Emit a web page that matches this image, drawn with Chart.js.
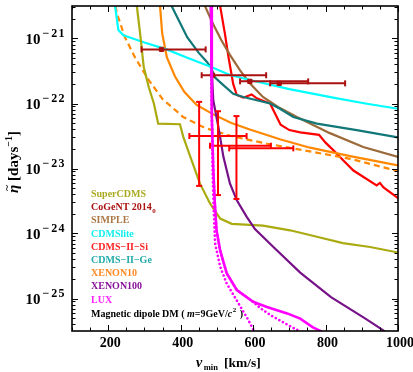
<!DOCTYPE html>
<html>
<head>
<meta charset="utf-8">
<script src="https://cdn.jsdelivr.net/npm/chart.js@4.4.1/dist/chart.umd.min.js"></script>
<style>
  html,body{margin:0;padding:0;background:#fff;}
  canvas{display:block;}
</style>
</head>
<body>
<canvas id="eta" width="413" height="372"></canvas>
<script>
// v_min [km/s] and eta~ [days^-1]
const cdmsliteX = [219,228,242,300,361,420,481,536,600,700,821,910,1000];
const cdmsliteY = [3.16e-21,1.35e-21,1.12e-21,8.7e-22,6.8e-22,5.0e-22,3.7e-22,2.75e-22,2.24e-22,1.66e-22,1.23e-22,1.0e-22,8.3e-23];

const superX = [279,288,298,312,326,338,398,407,430,453,481,509,541,627,702,776,848,923,1000];
const superY = [3.16e-21,1.2e-21,3.63e-22,1.78e-22,1.0e-22,4.9e-23,4.8e-23,3.1e-23,1.35e-23,5.9e-24,2.9e-24,1.7e-24,1.41e-24,1.32e-24,1.12e-24,8.9e-25,7.1e-25,6.2e-25,5.1e-25];

const xe10X = [343,349,362,384,410,444,490,540,591,674,757,868,1000];
const xe10Y = [3.16e-21,1.2e-21,5.1e-22,2.63e-22,1.51e-22,9.5e-23,6.8e-23,5.0e-23,3.98e-23,2.82e-23,2.09e-23,1.55e-23,1.12e-23];

const xe10dX = [220,224,246,274,312,350,407,467,545,640,730,868,1000];
const xe10dY = [3.16e-21,2.45e-21,1.05e-21,5.1e-22,2.29e-22,1.17e-22,6.2e-23,4.2e-23,3.1e-23,2.4e-23,1.95e-23,1.41e-23,9.1e-24];

const geX = [375,395,418,450,472,484,495,514,545,573,647,674,711,776,886,1000];
const geY = [3.16e-21,1.9e-21,1.05e-21,6.0e-22,4.4e-22,3.55e-22,2.5e-22,2.0e-22,1.41e-22,1.26e-22,1.0e-22,8.3e-23,6.2e-23,4.9e-23,3.9e-23,3.0e-23];

const simpleX = [467,490,512,536,564,591,627,674,721,812,904,1000];
const simpleY = [3.16e-21,1.66e-21,9.5e-22,5.6e-22,3.24e-22,2.04e-22,1.26e-22,8.5e-23,6.2e-23,3.5e-23,2.14e-23,1.51e-23];

const siX = [509,522,532,545,555,573,596,610,647,656,676,700,730,782,800,822,850,877,941,950,960,1000];
const siY = [3.16e-21,1.2e-21,5.2e-22,2.0e-22,1.35e-22,1.23e-22,1.38e-22,1.2e-22,1.0e-22,7.9e-23,4.7e-23,3.9e-23,3.6e-23,3.3e-23,2.5e-23,1.9e-23,1.32e-23,9.3e-24,5.5e-24,6.0e-24,5.1e-24,3.5e-24];

const xe100X = [483,486,490,504,518,536,555,582,605,656,730,815,910,950,975];
const xe100Y = [3.16e-21,3.16e-22,1.12e-22,4.4e-23,1.51e-23,5.9e-24,3.24e-24,1.82e-24,1.17e-24,6.2e-25,2.5e-25,1.05e-25,4.9e-26,3.5e-26,2.8e-26];

const luxX = [484,486,490,494,499,509,527,555,600,638,694,730,765,790];
const luxY = [3.16e-21,6.3e-23,1.0e-23,3.16e-24,1.12e-24,5.5e-25,2.45e-25,1.35e-25,8.9e-26,7.4e-26,5.9e-26,4.9e-26,3.6e-26,3.1e-26];

const luxDot1X = [484,486,488,491,495,509,527,555,582,605];
const luxDot1Y = [3.16e-21,6.3e-23,1.0e-23,2.5e-24,7.1e-25,3.1e-25,1.7e-25,9.3e-26,5.2e-26,3.0e-26];

const luxDot2X = [484,486,490,494,499,509,527,555,600,620,647,693,730];
const luxDot2Y = [3.16e-21,6.3e-23,1.0e-23,3.16e-24,1.12e-24,5.5e-25,2.45e-25,1.35e-25,8.9e-26,7.1e-26,5.6e-26,4.0e-26,3.1e-26];

// CoGeNT 2014 bins (horizontal bars only)
const cogentX   = [347,488,591,672];
const cogentXlo = [292,458,564,647];
const cogentXhi = [469,636,752,854];
const cogentY   = [6.8e-22,2.72e-22,2.19e-22,2.04e-22];

// CDMS-II-Si points
const siPtX   = [451,503,554];
const siPtXlo = [424,481,534];
const siPtXhi = [582,649,711];
const siPtY   = [3.16e-23,2.24e-23,2.04e-23];
const siPtYlo = [5.4e-24,3.9e-24,3.4e-24];
const siPtYhi = [1.06e-22,7.6e-23,6.4e-23];

const xTicks = [200,400,600,800,1000];
const yExps = [-21,-22,-23,-24,-25];

const legendItems = [
  ['SuperCDMS','#aaaa22'],
  ['CoGeNT 2014','#aa1111'],
  ['SIMPLE','#aa7744'],
  ['CDMSlite','#11eeee'],
  ['CDMS\u2212II\u2212Si','#ff2222'],
  ['CDMS\u2212II\u2212Ge','#22aaaa'],
  ['XENON10','#ff8822'],
  ['XENON100','#881199'],
  ['LUX','#ff22ff']
];

const SERIF = '"Liberation Serif","DejaVu Serif",serif';

function pts(xs, ys){ return xs.map((x,i)=>({x:x, y:ys[i]})); }

function curve(xs, ys, color, extra){
  return Object.assign({
    data: pts(xs, ys), borderColor: color, borderWidth: 2.2,
    pointRadius: 0, fill: false, tension: 0, order: 5
  }, extra || {});
}

const datasets = [
  curve(luxX, luxY, '#ff00ff', {borderWidth:2.6, order:0}),
  curve(luxDot1X, luxDot1Y, '#ff00ff', {borderWidth:2.6, borderDash:[0.1,4], borderCapStyle:'round', order:0}),
  curve(luxDot2X, luxDot2Y, '#ff00ff', {borderWidth:2.6, borderDash:[0.1,4], borderCapStyle:'round', order:0}),
  curve(xe100X, xe100Y, '#771188', {order:3}),
  curve(superX, superY, '#aaaa11'),
  curve(cdmsliteX, cdmsliteY, '#00ffff'),
  curve(xe10X, xe10Y, '#ff8800'),
  curve(xe10dX, xe10dY, '#ff8800', {borderDash:[6,4]}),
  curve(geX, geY, '#117777'),
  curve(simpleX, simpleY, '#9c6a3a'),
  curve(siX, siY, '#ff0000')
];

// error bars as two-point line datasets with cap markers
cogentX.forEach((c,i)=>{
  datasets.push({
    data:[{x:cogentXlo[i],y:cogentY[i]},{x:cogentXhi[i],y:cogentY[i]}],
    borderColor:'#aa1111', borderWidth:2, fill:false, order:1,
    pointStyle:'line', rotation:90, pointRadius:3, pointBorderWidth:2, pointBorderColor:'#aa1111'
  });
});
datasets.push({
  data: pts(cogentX, cogentY), showLine:false, order:1,
  pointStyle:'rect', pointRadius:3, pointBackgroundColor:'#aa1111', pointBorderColor:'#aa1111', borderColor:'#aa1111'
});
siPtX.forEach((c,i)=>{
  datasets.push({
    data:[{x:siPtXlo[i],y:siPtY[i]},{x:siPtXhi[i],y:siPtY[i]}],
    borderColor:'#ff0000', borderWidth:2, fill:false, order:1,
    pointStyle:'line', rotation:90, pointRadius:3, pointBorderWidth:2, pointBorderColor:'#ff0000'
  });
  datasets.push({
    data:[{x:c,y:siPtYlo[i]},{x:c,y:siPtYhi[i]}],
    borderColor:'#ff0000', borderWidth:2, fill:false, order:1,
    pointStyle:'line', rotation:0, pointRadius:3, pointBorderWidth:2, pointBorderColor:'#ff0000'
  });
});

const decor = {
  id:'decor',
  beforeDatasetsDraw(chart){
    const ctx = chart.ctx;
    ctx.save();
    ctx.textBaseline = 'middle';
    ctx.textAlign = 'left';
    let y0 = 194.5;
    legendItems.forEach(([t,c],i)=>{
      ctx.fillStyle = c;
      ctx.font = 'bold 10px ' + SERIF;
      ctx.fillText(t, 91, y0 + i*13.2);
      if(i===1){
        const w = ctx.measureText(t).width;
        ctx.font = 'bold 7px ' + SERIF;
        ctx.fillText('0', 91 + w + 0.5, y0 + i*13.2 + 3);
      }
    });
    // model label
    let x = 91, yl = 314;
    ctx.fillStyle = '#000';
    const parts = [['Magnetic dipole DM ( ','bold 10px'],['m','italic bold 10px'],['=9GeV/','bold 10px'],['c','italic bold 10px']];
    parts.forEach(([t,f])=>{ ctx.font = f + ' ' + SERIF; ctx.fillText(t, x, yl); x += ctx.measureText(t).width; });
    ctx.font = 'bold 7px ' + SERIF; ctx.fillText('2', x + 0.5, yl - 4); x += ctx.measureText('2').width + 1.5;
    ctx.font = 'bold 10px ' + SERIF; ctx.fillText(' )', x, yl);
    ctx.restore();
  },
  afterDraw(chart){
    const {ctx, chartArea:a, scales:{x:xs, y:ys}} = chart;
    ctx.save();
    ctx.strokeStyle = '#000';
    ctx.lineWidth = 1;
    const seg = (x1,y1,x2,y2)=>{ ctx.beginPath(); ctx.moveTo(x1,y1); ctx.lineTo(x2,y2); ctx.stroke(); };
    for(let v=100; v<=1000; v+=50){
      const px = Math.round(xs.getPixelForValue(v)) + 0.5;
      const L = v%200===0 ? 6 : 3.5;
      seg(px, a.bottom, px, a.bottom - L);
      seg(px, a.top, px, a.top + L);
    }
    for(let e=-26; e<=-20; e++){
      for(let m=1; m<10; m++){
        const v = m * Math.pow(10, e);
        if(v < ys.min || v > ys.max) continue;
        const py = Math.round(ys.getPixelForValue(v)) + 0.5;
        const L = m===1 ? 6 : 3.5;
        seg(a.left, py, a.left + L, py);
        seg(a.right, py, a.right - L, py);
      }
    }
    ctx.lineWidth = 1.6;
    ctx.strokeRect(a.left, a.top, a.right - a.left, a.bottom - a.top);

    // tick labels
    ctx.fillStyle = '#000';
    ctx.textBaseline = 'alphabetic';
    ctx.font = 'bold 14px ' + SERIF;
    ctx.textAlign = 'center';
    xTicks.forEach(v=>{ ctx.fillText(String(v), xs.getPixelForValue(v) + 2, 347); });
    yExps.forEach(e=>{
      const py = ys.getPixelForValue(Math.pow(10, e));
      ctx.textAlign = 'right';
      ctx.font = 'bold 15px ' + SERIF;
      ctx.fillText('10', 40.5, py + 5);
      ctx.textAlign = 'left';
      ctx.font = 'bold 12px ' + SERIF;
      ctx.fillText('\u2212', 42.5, py - 2);
      const mw = ctx.measureText('\u2212').width;
      const ds = String(-e);
      let dx = 42.5 + mw + 2;
      for(const ch of ds){ ctx.fillText(ch, dx, py - 2); dx += ctx.measureText(ch).width + 1.2; }
    });

    // x title
    let tx = 196;
    ctx.textAlign = 'left';
    ctx.font = 'italic bold 14px ' + SERIF; ctx.fillText('v', tx, 367); tx += ctx.measureText('v').width + 1.5;
    ctx.font = 'bold 8.5px ' + SERIF; ctx.fillText('min', tx, 370);
    ctx.font = 'bold 13.5px ' + SERIF; ctx.fillText('[km/s]', 224, 367);

    // y title
    ctx.translate(18, 162);
    ctx.rotate(-Math.PI/2);
    ctx.textAlign = 'left';
    const segs = [['\u03b7','italic bold 15px',0],[' [days','bold 15px',0],['\u22121','bold 10px',-6],[']','bold 15px',0]];
    let total = 0;
    segs.forEach(([t,f])=>{ ctx.font = f + ' ' + SERIF; total += ctx.measureText(t).width; });
    let sx = -total/2;
    segs.forEach(([t,f,dy],i)=>{
      ctx.font = f + ' ' + SERIF;
      const w = ctx.measureText(t).width;
      ctx.fillText(t, sx, dy);
      if(i===0){
        ctx.font = 'bold 11px ' + SERIF;
        ctx.textAlign = 'center';
        ctx.fillText('~', sx + w/2 + 1, -8);
        ctx.textAlign = 'left';
      }
      sx += w;
    });
    ctx.restore();
  }
};

new Chart(document.getElementById('eta'), {
  type:'line',
  data:{ datasets: datasets },
  options:{
    responsive:false,
    animation:false,
    layout:{ padding:{left:72, right:15, top:6, bottom:41} },
    plugins:{ legend:{display:false}, tooltip:{enabled:false} },
    scales:{
      x:{ type:'linear', min:100, max:1000, display:false },
      y:{ type:'logarithmic', min:Math.pow(10,-25.5), max:Math.pow(10,-20.5), display:false }
    }
  },
  plugins:[decor]
});
</script>
</body>
</html>
